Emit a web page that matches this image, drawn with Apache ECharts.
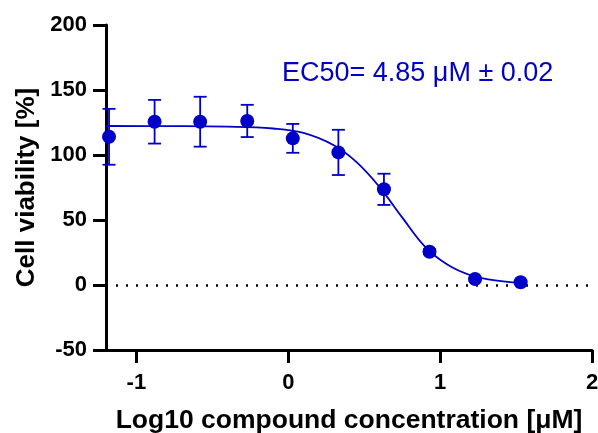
<!DOCTYPE html>
<html>
<head>
<meta charset="utf-8">
<script src="https://cdn.jsdelivr.net/npm/echarts@6/dist/echarts.min.js"></script>
<style>
html,body{margin:0;padding:0;background:#fff;}
#chart{width:598px;height:433px;}
</style>
</head>
<body>
<div id="chart"></div>
<script>
// Measured data (log10 concentration in µM, cell viability %)
var logConc   = [-1.18, -0.88, -0.58, -0.27, 0.03, 0.33, 0.63, 0.93, 1.23, 1.53];
var viability = [114, 125.6, 125.6, 126.2, 112.8, 102, 73.6, 25.6, 4.6, 2.1];
var sdValues  = [21.5, 16.8, 19.2, 12.4, 11.1, 17.4, 12, 2, 1, 1];

// Fitted curve
var curveX = [-1.2, -0.8, -0.4, -0.1, 0.1, 0.3, 0.45, 0.6, 0.75, 0.9, 1.05, 1.2, 1.35, 1.53];
var curveY = [122.3, 122.2, 121.8, 120.4, 117, 107.5, 94.5, 75.5, 52, 29.5, 15.5, 7.5, 3.8, 1.6];

var xTicks = [-1, 0, 1, 2];
var annotation = 'EC50= 4.85 μM ± 0.02';

var BLUE = '#0000c8';
var FONT = '"Liberation Sans", Arial, sans-serif';

var points = logConc.map(function (x, i) { return [x, viability[i]]; });
var errData = logConc.map(function (x, i) { return [x, viability[i] - sdValues[i], viability[i] + sdValues[i]]; });
var curve = curveX.map(function (x, i) { return [x, curveY[i]]; });

var chart = echarts.init(document.getElementById('chart'), null, {renderer: 'canvas'});
chart.setOption({
  animation: false,
  backgroundColor: '#fff',
  title: {
    text: annotation,
    left: 277, top: 55,
    textStyle: {color: BLUE, fontFamily: FONT, fontSize: 27, fontWeight: 'normal'}
  },
  grid: {left: 106, right: 6, top: 25, bottom: 83, containLabel: false, outerBoundsMode: 'none'},
  xAxis: {
    type: 'value', min: -1.2, max: 2,
    name: 'Log10 compound concentration [μM]',
    nameLocation: 'middle', nameGap: 57,
    nameTextStyle: {color: '#000', fontFamily: FONT, fontSize: 26.5, fontWeight: 'bold'},
    axisLine: {show: true, onZero: false, lineStyle: {color: '#000', width: 3}},
    axisTick: {show: true, length: 13, customValues: xTicks, lineStyle: {color: '#000', width: 3}},
    axisLabel: {customValues: xTicks, margin: 22, color: '#000', fontFamily: FONT, fontSize: 22, fontWeight: 'bold'},
    splitLine: {show: false}
  },
  yAxis: {
    type: 'value', min: -50, max: 200, interval: 50,
    name: 'Cell viability [%]',
    nameLocation: 'middle', nameGap: 66,
    nameTextStyle: {color: '#000', fontFamily: FONT, fontSize: 26, fontWeight: 'bold'},
    axisLine: {show: true, onZero: false, lineStyle: {color: '#000', width: 3}},
    axisTick: {show: true, length: 13, lineStyle: {color: '#000', width: 3}},
    axisLabel: {margin: 19, color: '#000', fontFamily: FONT, fontSize: 22, fontWeight: 'bold'},
    splitLine: {show: false}
  },
  series: [
    {
      type: 'line',
      data: [],
      silent: true,
      markLine: {
        silent: true,
        symbol: 'none',
        label: {show: false},
        lineStyle: {color: '#000', width: 2.5, type: [2, 8]},
        data: [{yAxis: 0}]
      }
    },
    {
      type: 'line',
      data: curve,
      smooth: 0.4,
      showSymbol: false,
      lineStyle: {color: BLUE, width: 1.8},
      z: 3
    },
    {
      type: 'custom',
      data: errData,
      z: 4,
      renderItem: function (params, api) {
        var x = api.value(0);
        var lo = api.coord([x, api.value(1)]);
        var hi = api.coord([x, api.value(2)]);
        var hw = 6.5;
        var st = {stroke: BLUE, lineWidth: 1.8, fill: null};
        return {
          type: 'group',
          children: [
            {type: 'line', shape: {x1: lo[0], y1: lo[1], x2: hi[0], y2: hi[1]}, style: st},
            {type: 'line', shape: {x1: lo[0] - hw, y1: lo[1], x2: lo[0] + hw, y2: lo[1]}, style: st},
            {type: 'line', shape: {x1: hi[0] - hw, y1: hi[1], x2: hi[0] + hw, y2: hi[1]}, style: st}
          ]
        };
      }
    },
    {
      type: 'scatter',
      data: points,
      symbol: 'circle',
      symbolSize: 14,
      itemStyle: {color: BLUE, opacity: 1},
      z: 5
    }
  ]
});
</script>
</body>
</html>
